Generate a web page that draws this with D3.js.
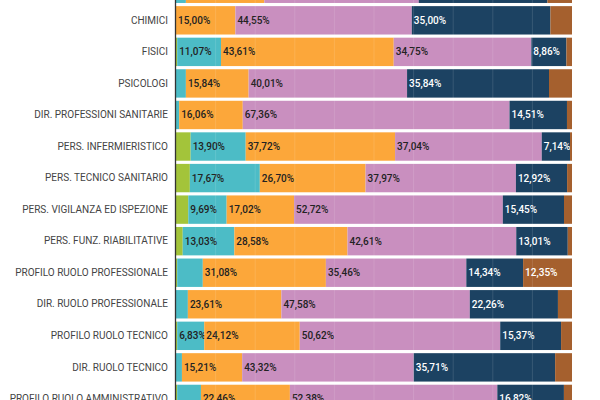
<!DOCTYPE html>
<html><head><meta charset="utf-8">
<script src="https://cdn.jsdelivr.net/npm/d3@7"></script>
<style>body{margin:0;background:#fff}svg{display:block}</style>
</head><body><svg id="c" width="600" height="400"></svg>
<script>
const categories = ["FARMACISTI","CHIMICI","FISICI","PSICOLOGI","DIR. PROFESSIONI SANITARIE","PERS. INFERMIERISTICO","PERS. TECNICO SANITARIO","PERS. VIGILANZA ED ISPEZIONE","PERS. FUNZ. RIABILITATIVE","PROFILO RUOLO PROFESSIONALE","DIR. RUOLO PROFESSIONALE","PROFILO RUOLO TECNICO","DIR. RUOLO TECNICO","PROFILO RUOLO AMMINISTRATIVO"];
const s1 = [0,0,0.3,0,0,3.7,3.5,3.1,1.7,0.3,0,0.3,0,0.3];
const s2 = [2.5,0,11.07,2.5,0.8,13.90,17.67,9.69,13.03,6.47,3.0,6.83,1.5,6.0];
const s3 = [19.8,15.00,43.61,15.84,16.06,37.72,26.70,17.02,28.58,31.08,23.61,24.12,15.21,22.46];
const s4 = [39.0,44.55,34.75,40.01,67.36,37.04,37.97,52.72,42.61,35.46,47.58,50.62,43.32,52.38];
const s5 = [32.5,35.00,8.86,35.84,14.51,7.14,12.92,15.45,13.01,14.34,22.26,15.37,35.71,16.82];
const s6 = [6.2,5.45,1.41,5.81,1.27,0.5,1.24,2.02,1.07,12.35,3.55,2.76,4.26,2.04];
const colors = ["#a3c43a","#4cbcc6","#fca73a","#c98fbf","#1c4262","#a5602e"];
const textColors = ["#222","#222","#222","#222","#fff","#fff"];
const series = [s1,s2,s3,s4,s5,s6];

const svg = d3.select("#c");
const x = d3.scaleLinear().domain([0,100]).range([176,572]);
const y = d3.scaleBand().domain(categories).range([-27, -27 + 31.55*categories.length]).paddingInner(0.1).paddingOuter(0.05);
const fmt = v => v.toFixed(2).replace(".", ",") + "%";
const visible = c => y(c) + y.bandwidth()/2 > 6;

categories.forEach((c,i)=>{
  let acc = 0;
  series.forEach((s,k)=>{
    const v = s[i];
    const x0 = x(acc), x1 = x(acc+v);
    svg.append("rect").attr("x",x0).attr("y",y(c)).attr("width",Math.max(0,x1-x0)).attr("height",y.bandwidth()).attr("fill",colors[k]);
    if (v >= 6.5 && visible(c)) svg.append("text").attr("x",x0+2).attr("y",y(c)+y.bandwidth()/2).attr("dy","0.35em")
      .attr("font-family","Roboto").attr("font-size",10).attr("font-weight",500).attr("fill",textColors[k]).text(fmt(v));
    acc += v;
  });
});
svg.append("g").selectAll("line").data(d3.range(10,100,10)).join("line")
  .attr("x1",d=>x(d)).attr("x2",d=>x(d)).attr("y1",0).attr("y2",400).attr("stroke","#fff").attr("stroke-opacity",0.12);
svg.append("g").attr("transform","translate(175,0)")
  .call(d3.axisLeft(y).tickSize(0).tickPadding(7).tickFormat(c => visible(c) ? c : ""))
  .call(g=>g.select(".domain").attr("stroke","#333").attr("stroke-width",1.3))
  .call(g=>g.selectAll("text").attr("font-family","Roboto").attr("font-size",10).attr("fill","#444"));
</script></body></html>
